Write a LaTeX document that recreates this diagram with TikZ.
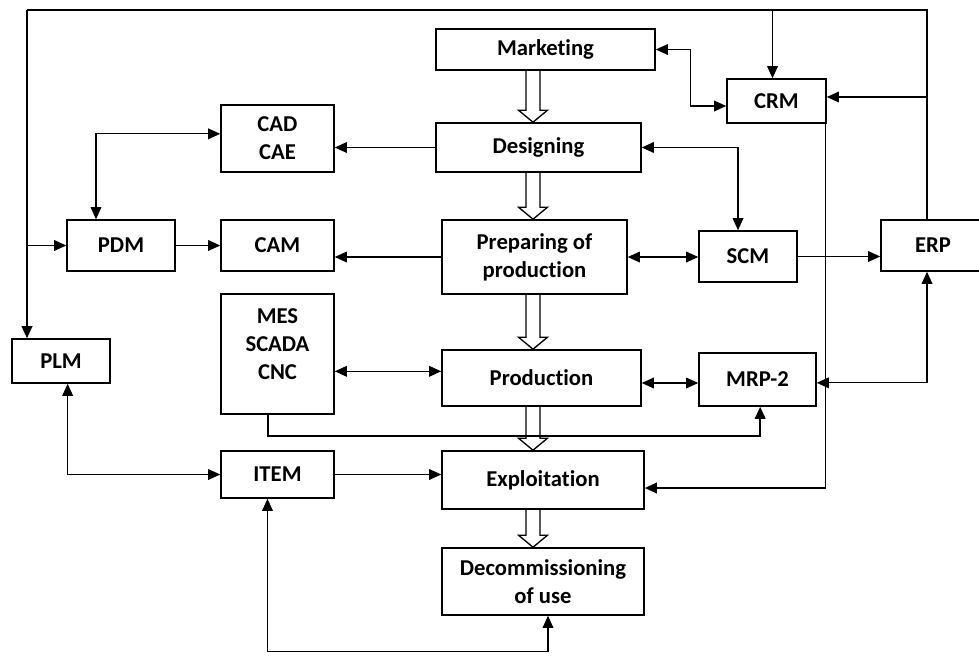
\documentclass[tikz,border=0pt]{standalone}
\usepackage{fontspec}
\setmainfont[Ligatures=NoCommon]{Carlito}
\usetikzlibrary{arrows.meta,calc}

\begin{document}
\begin{tikzpicture}[x=0.75pt, y=-0.75pt,
	box/.style={draw, line width=1.2pt, inner sep=0pt, align=center, font=\bfseries\fontsize{17}{21}\selectfont},
	wire/.style={line width=0.9pt},
	link/.style={wire, -{Triangle[length=9pt,width=8pt]}},
	twoway/.style={wire, {Triangle[length=9pt,width=8pt]}-{Triangle[length=9pt,width=8pt]}},
	hollow/.style={draw, line width=1pt, line join=miter}]
	\useasboundingbox (0,0) rectangle (979,658);

	% Draw the life cycle stages
	\node[box, minimum width=164.25pt, minimum height=30.75pt] (mkt) at (545.5,49.5) {Marketing};
	\node[box, minimum width=153.75pt, minimum height=36.75pt] (des) at (538.5,147.5) {Designing};
	\node[box, minimum width=138.75pt, minimum height=55.5pt] (prep) at (534.5,257) {Preparing of\\production};
	\node[box, minimum width=149.25pt, minimum height=42pt] (prod) at (541.5,378) {Production};
	\node[box, minimum width=151.5pt, minimum height=43.5pt] (expl) at (543,480) {Exploitation};
	\node[box, minimum width=151.5pt, minimum height=50.25pt] (dec) at (543,581.5) {Decommissioning\\of use};

	% Draw the systems
	\node[box, minimum width=84.75pt, minimum height=50.25pt] (cad) at (277.5,138.5) {CAD\\CAE};
	\node[box, minimum width=81pt, minimum height=38.25pt] (pdm) at (121,245.5) {PDM};
	\node[box, minimum width=84.75pt, minimum height=38.25pt] (cam) at (277.5,245.5) {CAM};
	\node[box, minimum width=84.75pt, minimum height=90pt] (mes) at (277.5,354) {};
	\node[box, draw=none, anchor=north] (mestext) at ([yshift=-11pt]mes.north) {MES\\SCADA\\CNC};
	\node[box, minimum width=73.5pt, minimum height=33pt] (plm) at (61,361) {PLM};
	\node[box, minimum width=84.75pt, minimum height=35.25pt] (item) at (277.5,474.5) {ITEM};
	\node[box, minimum width=74.25pt, minimum height=33pt] (crm) at (776.5,101) {CRM};
	\node[box, minimum width=73.5pt, minimum height=38.25pt] (scm) at (748,256.5) {SCM};
	\node[box, minimum width=87.75pt, minimum height=39.75pt] (mrp) at (757.5,379.5) {MRP-2};
	\node[box, minimum width=78pt, minimum height=38.25pt] (erp) at (933,245.5) {ERP};

	% Draw the hollow arrows between the stages
	\coordinate (ax) at (533,0);
	\foreach \a/\b in {mkt/des, des/prep, prep/prod, prod/expl, expl/dec}
		\draw[hollow] ($(\a.south -| ax)+(-7,0)$) -- ($(\b.north -| ax)+(-7,-12)$) -- ($(\b.north -| ax)+(-14.5,-12)$)
			-- (\b.north -| ax) -- ($(\b.north -| ax)+(14.5,-12)$) -- ($(\b.north -| ax)+(7,-12)$) -- ($(\a.south -| ax)+(7,0)$);

	% Draw the loop along the top
	\coordinate (tl) at (27,10);
	\coordinate (tr) at (927,10);
	\draw[wire, line width=1.1pt] (erp.north -| tr) -- (tr) -- (tl);
	\draw[link, line width=1.1pt] (tl) -- (tl |- plm.north);
	\draw[link] (tl |- pdm.west) -- (pdm.west);
	\draw[link] ([xshift=-3pt]crm.north |- tr) -- ([xshift=-3pt]crm.north);
	\draw[link] ([yshift=3pt]crm.east -| tr) -- ([yshift=3pt]crm.east);

	% Draw the links
	\draw[twoway] (mkt.east) -- ++(35,0) |- ([yshift=-3.75pt]crm.west);
	\draw[twoway] (des.east) -| ([xshift=-7.5pt]scm.north);
	\draw[link] (des.west) -- (des.west -| cad.east);
	\draw[twoway] ([yshift=3.5pt]cad.west) -| ([xshift=-18.75pt]pdm.north);
	\draw[link] (pdm.east) -- (cam.west);
	\draw[link] (prep.west) -- (prep.west -| cam.east);
	\draw[twoway] (prep.east) -- (prep.east -| scm.west);
	\draw[link] (scm.east) -- (scm.east -| erp.west);
	\draw[link, line width=1.1pt] ([xshift=-1pt]crm.south east) |- ([yshift=-6pt]expl.east);
	\draw[twoway] (erp.south -| tr) |- ([yshift=-2.5pt]mrp.east);
	\draw[twoway] ([yshift=5pt]prod.west -| mes.east) -- ([yshift=5pt]prod.west);
	\draw[twoway] ([yshift=-3.75pt]prod.east) -- ([yshift=-3.75pt]prod.east -| mrp.west);
	\draw[link, line width=1.1pt] ([xshift=-7pt]mes.south) -- ++(0,21) -| ([xshift=2pt]mrp.south);
	\draw[twoway] ([xshift=5pt]plm.south) |- (item.west);
	\draw[link] (item.east) -- (item.east -| expl.west);
	\draw[twoway] ([xshift=-7.5pt]item.south) -- ++(0,153) -| ([xshift=3.75pt]dec.south);
\end{tikzpicture}
\end{document}
